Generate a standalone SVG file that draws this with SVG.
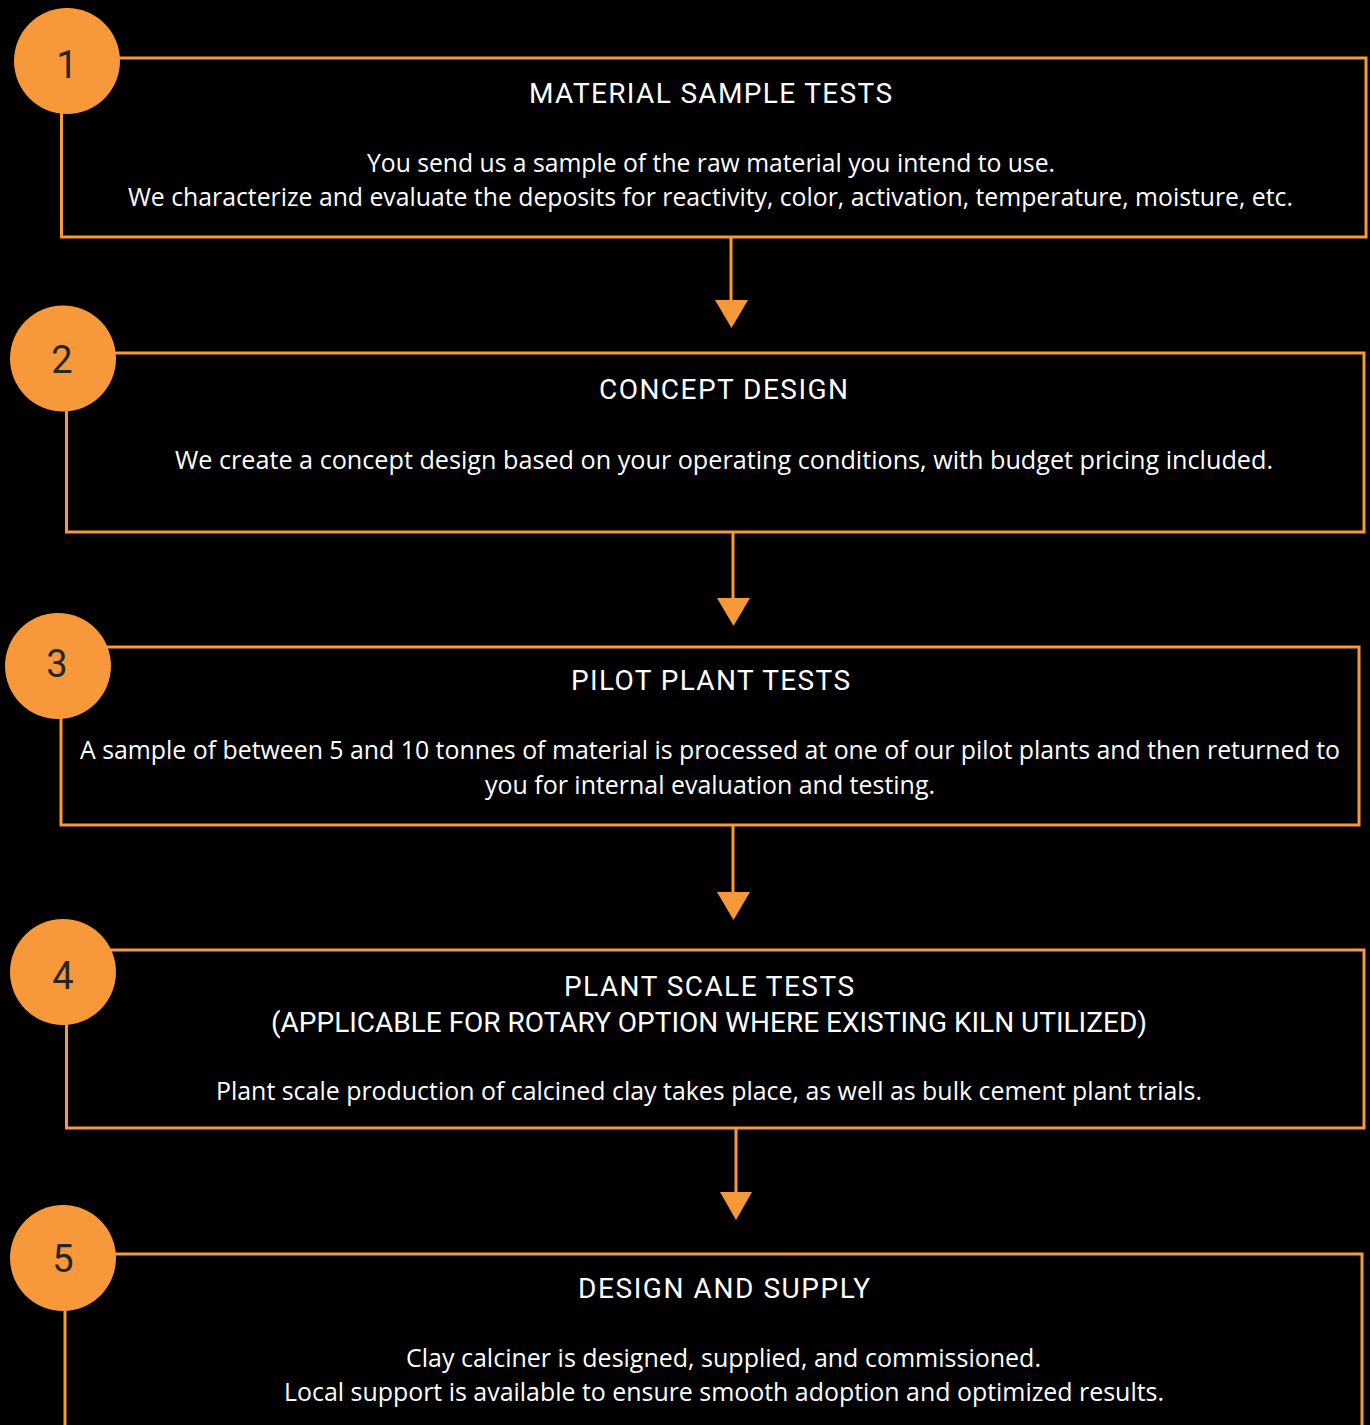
<svg xmlns="http://www.w3.org/2000/svg" width="1370" height="1425" viewBox="0 0 1370 1425">
  <defs>
    <style>
      .box { fill: none; stroke: #F7993A; stroke-width: 3; }
      .badge { fill: #F7993A; }
      .num { font-family: Roboto, "Liberation Sans", sans-serif; font-size: 38px; fill: #262626; text-anchor: middle; }
      .title { font-family: Roboto, "Liberation Sans", sans-serif; font-size: 28px; font-weight: 400; fill: #ffffff; }
      .body { font-family: "Open Sans", "Noto Sans", "Liberation Sans", sans-serif; font-size: 25px; fill: #ffffff; }
      .conn { stroke: #F7993A; stroke-width: 3; fill: none; }
      .head { fill: #F7993A; }
    </style>
  </defs>
  <rect x="0" y="0" width="1370" height="1425" fill="#000000"/>

  <g id="connectors">
    <line class="conn" x1="731" y1="238" x2="731" y2="302"/>
    <polygon class="head" points="715,300 748,300 731.5,328"/>
    <line class="conn" x1="733" y1="533" x2="733" y2="600"/>
    <polygon class="head" points="717,598 750,598 733.5,626"/>
    <line class="conn" x1="733" y1="826" x2="733" y2="894"/>
    <polygon class="head" points="717,892 750,892 733.5,920"/>
    <line class="conn" x1="736" y1="1129" x2="736" y2="1194"/>
    <polygon class="head" points="720,1192 752,1192 736,1220"/>
  </g>

  <g id="step1">
    <rect class="box" x="61.5" y="58" width="1304.5" height="179"/>
    <circle class="badge" cx="67" cy="61" r="53"/>
    <text class="num" x="67" y="78">1</text>
    <text class="title" x="529" y="103" textLength="363" lengthAdjust="spacing">MATERIAL SAMPLE TESTS</text>
    <text class="body" x="367" y="172" textLength="688" lengthAdjust="spacingAndGlyphs">You send us a sample of the raw material you intend to use.</text>
    <text class="body" x="128" y="206" textLength="1165" lengthAdjust="spacingAndGlyphs">We characterize and evaluate the deposits for reactivity, color, activation, temperature, moisture, etc.</text>
  </g>

  <g id="step2">
    <rect class="box" x="66.5" y="353" width="1297.5" height="179"/>
    <circle class="badge" cx="63" cy="358.5" r="53"/>
    <text class="num" x="62" y="373">2</text>
    <text class="title" x="599" y="399" textLength="249" lengthAdjust="spacing">CONCEPT DESIGN</text>
    <text class="body" x="175" y="469" textLength="1098" lengthAdjust="spacingAndGlyphs">We create a concept design based on your operating conditions, with budget pricing included.</text>
  </g>

  <g id="step3">
    <rect class="box" x="61" y="647" width="1298" height="178"/>
    <circle class="badge" cx="58" cy="666" r="53"/>
    <text class="num" x="57" y="677">3</text>
    <text class="title" x="571" y="690" textLength="279" lengthAdjust="spacing">PILOT PLANT TESTS</text>
    <text class="body" x="80" y="759" textLength="1260" lengthAdjust="spacingAndGlyphs">A sample of between 5 and 10 tonnes of material is processed at one of our pilot plants and then returned to</text>
    <text class="body" x="485" y="794" textLength="450" lengthAdjust="spacingAndGlyphs">you for internal evaluation and testing.</text>
  </g>

  <g id="step4">
    <rect class="box" x="66.5" y="950" width="1297.5" height="178"/>
    <circle class="badge" cx="63" cy="972" r="53"/>
    <text class="num" x="63" y="989">4</text>
    <text class="title" x="564" y="996" textLength="290" lengthAdjust="spacing">PLANT SCALE TESTS</text>
    <text class="title" x="271" y="1032" textLength="876" lengthAdjust="spacing">(APPLICABLE FOR ROTARY OPTION WHERE EXISTING KILN UTILIZED)</text>
    <text class="body" x="216" y="1100" textLength="986" lengthAdjust="spacingAndGlyphs">Plant scale production of calcined clay takes place, as well as bulk cement plant trials.</text>
  </g>

  <g id="step5">
    <path class="box" d="M65,1440 V1254 H1362 V1440"/>
    <circle class="badge" cx="63" cy="1258" r="53"/>
    <text class="num" x="63" y="1272">5</text>
    <text class="title" x="578" y="1298" textLength="292" lengthAdjust="spacing">DESIGN AND SUPPLY</text>
    <text class="body" x="406" y="1367" textLength="635" lengthAdjust="spacingAndGlyphs">Clay calciner is designed, supplied, and commissioned.</text>
    <text class="body" x="284" y="1401" textLength="880" lengthAdjust="spacingAndGlyphs">Local support is available to ensure smooth adoption and optimized results.</text>
  </g>
</svg>
